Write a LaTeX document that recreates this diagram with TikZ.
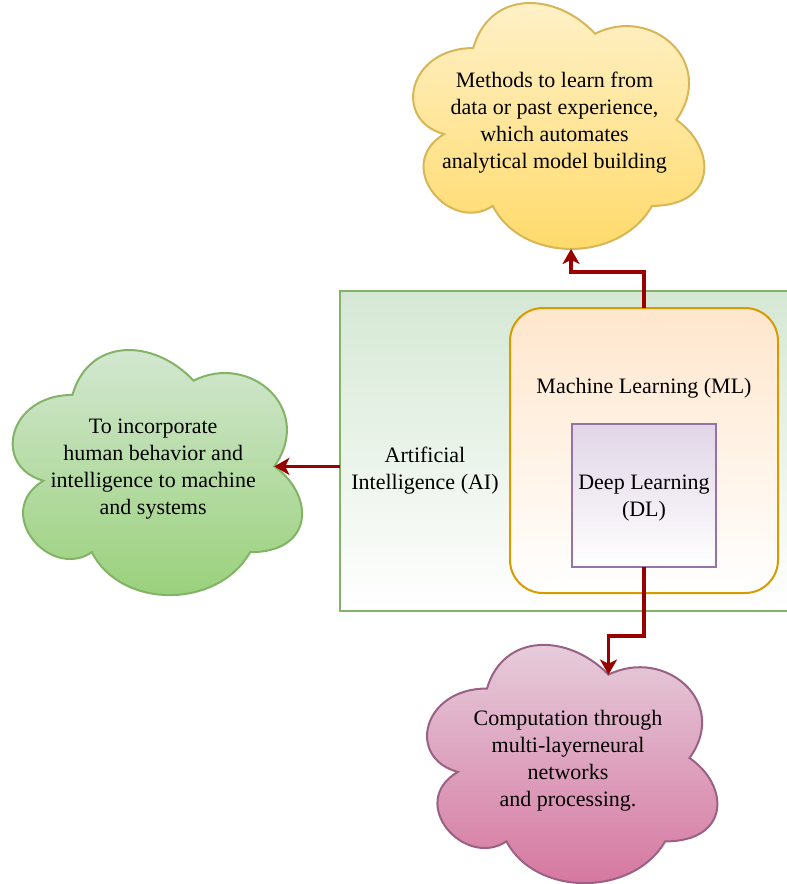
\documentclass[tikz,border=0pt]{standalone}
\usepackage{fontspec}
\setmainfont{Liberation Serif}
\usetikzlibrary{arrows.meta,calc}

\definecolor{aifill}{HTML}{D5E8D4}
\definecolor{aistroke}{HTML}{82B366}
\definecolor{mlfill}{HTML}{FFE6CC}
\definecolor{mlstroke}{HTML}{D79B00}
\definecolor{dlfill}{HTML}{E1D5E7}
\definecolor{dlstroke}{HTML}{9673A6}
\definecolor{ylwtop}{HTML}{FFF2CC}
\definecolor{ylwbot}{HTML}{FFD966}
\definecolor{ylwstroke}{HTML}{D6B656}
\definecolor{grntop}{HTML}{D5E8D4}
\definecolor{grnbot}{HTML}{97D077}
\definecolor{pnktop}{HTML}{E6D0DE}
\definecolor{pnkbot}{HTML}{D5739D}
\definecolor{pnkstroke}{HTML}{996185}
\definecolor{linkred}{HTML}{990000}

\tikzset{
  txt/.style={font=\fontsize{22}{27}\selectfont, align=center, text=black,
    inner sep=0pt, yshift=-3pt},
  box/.style={draw, line width=2pt, inner sep=0pt, outer sep=0pt},
  aibox/.style={box, draw=aistroke, top color=aifill, bottom color=white},
  mlbox/.style={box, draw=mlstroke, top color=mlfill, bottom color=white, rounded corners=33pt},
  dlbox/.style={box, draw=dlstroke, top color=dlfill, bottom color=white},
  cloudyellow/.style={draw=ylwstroke, line width=2pt, top color=ylwtop, bottom color=ylwbot},
  cloudgreen/.style={draw=aistroke, line width=2pt, top color=grntop, bottom color=grnbot},
  cloudpink/.style={draw=pnkstroke, line width=2pt, top color=pnktop, bottom color=pnkbot},
  link/.style={draw=linkred, line width=3.2pt,
    -{Stealth[length=15pt, width=17pt, inset=4pt]}},
}

\begin{document}
\begin{tikzpicture}[x=1pt, y=-1pt]
  \path[use as bounding box] (0,0) rectangle (787,884);
  \clip (0,0) rectangle (787,884);

  % nested areas: AI > ML > DL
  \node[aibox, minimum width=470pt, minimum height=320.5pt] (ai) at (575,450.75) {};
  \node[txt] (ailabel) at (425,467.5) {Artificial\\Intelligence (AI)};
  \node[mlbox, minimum width=268pt, minimum height=285pt] (ml) at (644,450.5) {};
  \node[txt] (mllabel) at (644,385) {Machine Learning (ML)};
  \node[dlbox, minimum width=144pt, minimum height=143pt] (dl) at (644,495.5) {};
  \node[txt] (dllabel) at (dl.center) {Deep Learning\\(DL)};

  % cloud: machine learning
  \begin{scope}[shift={(392,-23.7)}, x=325pt, y=-287pt]
    \path[cloudyellow] (0.25,0.25) .. controls (0.05,0.25) and (0,0.5) .. (0.16,0.55)
      .. controls (0,0.66) and (0.18,0.9) .. (0.31,0.8)
      .. controls (0.4,1) and (0.7,1) .. (0.8,0.8)
      .. controls (1,0.8) and (1,0.6) .. (0.875,0.5)
      .. controls (1,0.3) and (0.8,0.1) .. (0.625,0.2)
      .. controls (0.5,0.05) and (0.3,0.05) .. (0.25,0.25) -- cycle;
    \coordinate (methods-in) at (0.551,0.95);
    \node[txt] (methods) at (0.5,0.5) {Methods to learn from\\data or past experience,\\which automates\\analytical model building};
  \end{scope}

  % cloud: artificial intelligence
  \begin{scope}[shift={(-8.3,323.4)}, x=323pt, y=-286pt]
    \path[cloudgreen] (0.25,0.25) .. controls (0.05,0.25) and (0,0.5) .. (0.16,0.55)
      .. controls (0,0.66) and (0.18,0.9) .. (0.31,0.8)
      .. controls (0.4,1) and (0.7,1) .. (0.8,0.8)
      .. controls (1,0.8) and (1,0.6) .. (0.875,0.5)
      .. controls (1,0.3) and (0.8,0.1) .. (0.625,0.2)
      .. controls (0.5,0.05) and (0.3,0.05) .. (0.25,0.25) -- cycle;
    \coordinate (human-in) at (0.875,0.5);
    \node[txt] (human) at (0.5,0.5) {To incorporate\\human behavior and\\intelligence to machine\\and systems};
  \end{scope}

  % cloud: deep learning
  \begin{scope}[shift={(406,619)}, x=324pt, y=-278pt]
    \path[cloudpink] (0.25,0.25) .. controls (0.05,0.25) and (0,0.5) .. (0.16,0.55)
      .. controls (0,0.66) and (0.18,0.9) .. (0.31,0.8)
      .. controls (0.4,1) and (0.7,1) .. (0.8,0.8)
      .. controls (1,0.8) and (1,0.6) .. (0.875,0.5)
      .. controls (1,0.3) and (0.8,0.1) .. (0.625,0.2)
      .. controls (0.5,0.05) and (0.3,0.05) .. (0.25,0.25) -- cycle;
    \coordinate (deep-in) at (0.625,0.2);
    \node[txt] (deep) at (0.5,0.5) {Computation through\\multi-layerneural\\networks\\and processing.};
  \end{scope}

  % connectors
  \draw[link] (ml.north) -- ++(0,-36) -| (methods-in);
  \draw[link] (ai.west |- human-in) -- (human-in);
  \draw[link] (dl.south) -- ++(0,69) -| (deep-in);
\end{tikzpicture}
\end{document}
